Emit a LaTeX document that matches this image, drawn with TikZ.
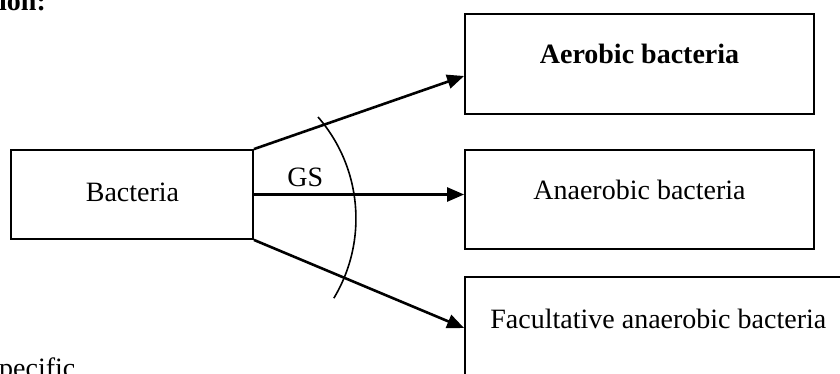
\documentclass[tikz,border=0pt]{standalone}
\usepackage{fontspec}
\setmainfont{Liberation Serif}
\usetikzlibrary{arrows.meta}
\begin{document}
\begin{tikzpicture}[x=1pt,y=-1pt,
  box/.style={draw=black,line width=1.8pt,inner sep=0pt},
  lbl/.style={anchor=base,inner sep=0pt,font=\fontsize{28}{34}\selectfont},
  conn/.style={line width=2.6pt,-{Triangle[length=17pt,width=14pt]}}]
\useasboundingbox (0,0) rectangle (840,374);
\clip (0,0) rectangle (840,374);
\fill[white] (0,0) rectangle (840,374);
% boxes
\node[box,minimum width=242pt,minimum height=89pt] (bac) at (132,194.5) {};
\node[box,minimum width=349pt,minimum height=100pt] (aer) at (639.5,64) {};
\node[box,minimum width=349pt,minimum height=99pt] (ana) at (639.5,199.5) {};
\node[box,minimum width=386pt,minimum height=123pt] (fac) at (658,338.5) {};
% texts
\node[lbl] (tbac) at (132.5,201) {Bacteria};
\node[lbl,font=\fontsize{28}{34}\selectfont\bfseries] (taer) at (639.5,64) {Aerobic bacteria};
\node[lbl] (tana) at (639.5,200) {Anaerobic bacteria};
\node[lbl] (tfac) at (658.3,328.3) {Facultative anaerobic bacteria};
\node[lbl] (gs) at (305.2,186) {GS};
\node[lbl,anchor=base west,font=\fontsize{28}{34}\selectfont\bfseries] (tion) at (-1,11) {ion:};
\node[lbl,anchor=base west] (tspec) at (-1,377) {pecific};
% connectors
\draw[conn] (bac.north east) -- ([yshift=-12pt]aer.west);
\draw[conn] (bac.east) -- (bac.east -| ana.west);
\draw[conn] (bac.south east) -- ([yshift=10.5pt]fac.west);
% arc
\coordinate (arcstart) at (318,117);
\draw[line width=1.6pt] (arcstart) arc[start angle=41,end angle=-31,radius=154.7pt];
\end{tikzpicture}
\end{document}
